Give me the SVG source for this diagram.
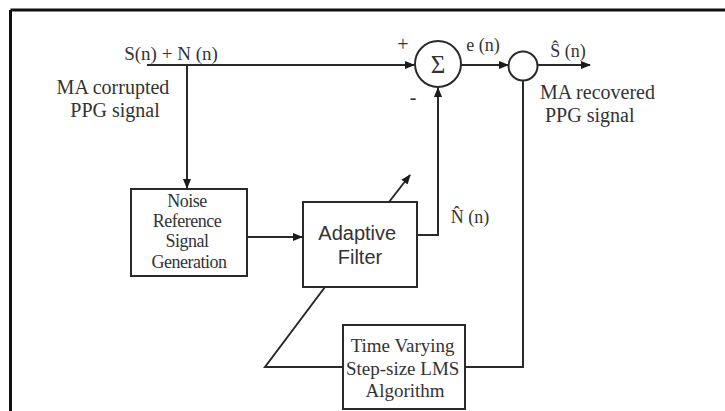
<svg xmlns="http://www.w3.org/2000/svg" width="725" height="411" viewBox="0 0 725 411">
<defs>
<marker id="ah" viewBox="0 0 10 10" refX="9" refY="5" markerWidth="10" markerHeight="10" markerUnits="userSpaceOnUse" orient="auto">
<path d="M0,1 L10,5 L0,9 Z" fill="#1a1a1a"/>
</marker>
</defs>
<style>
.ln{fill:none;stroke:#2a2a2a;stroke-width:2}
.bx{fill:#fff;stroke:#2a2a2a;stroke-width:2}
.serif{font-family:"Liberation Serif","Times New Roman",serif;fill:#333}
.sans{font-family:"Liberation Sans",Arial,sans-serif;fill:#333}
</style>
<rect width="725" height="411" fill="#fff"/>
<g id="frame">
<line x1="10.5" y1="10" x2="725" y2="10" stroke="#111" stroke-width="3"/>
<line x1="10.5" y1="10" x2="10.5" y2="411" stroke="#111" stroke-width="3"/>
</g>
<g id="connectors">
<line class="ln" x1="147" y1="65" x2="414" y2="65" marker-end="url(#ah)"/>
<line class="ln" x1="187" y1="65" x2="187" y2="188" marker-end="url(#ah)"/>
<line class="ln" x1="247" y1="237" x2="302" y2="237" marker-end="url(#ah)"/>
<polyline class="ln" points="417,235 438,235 438,88" marker-end="url(#ah)"/>
<line class="ln" x1="461" y1="65" x2="508" y2="65" marker-end="url(#ah)"/>
<line class="ln" x1="538" y1="65" x2="590" y2="65" marker-end="url(#ah)"/>
<polyline class="ln" points="523,80 523,367 465,367"/>
<polyline class="ln" points="343,367 265,367 325,287"/>
<line class="ln" x1="389" y1="202" x2="410" y2="175" marker-end="url(#ah)"/>
</g>
<g id="sum">
<circle class="bx" cx="438" cy="64" r="23"/>
<text class="serif" x="438" y="73" font-size="25" text-anchor="middle">Σ</text>
</g>
<g id="junction">
<circle class="bx" cx="523" cy="66" r="14.5"/>
</g>
<g id="noise-ref">
<rect class="bx" x="131" y="189" width="116" height="87"/>
<text class="serif" font-size="18" text-anchor="middle" letter-spacing="-0.5">
<tspan x="189" y="207">Noise</tspan>
<tspan x="189" y="227">Reference</tspan>
<tspan x="189" y="247">Signal</tspan>
<tspan x="189" y="268">Generation</tspan>
</text>
</g>
<g id="adaptive-filter">
<rect class="bx" x="303" y="202" width="114" height="85"/>
<text class="sans" font-size="20" text-anchor="middle">
<tspan x="360" y="240">Adaptive</tspan>
<tspan x="360" y="264">Filter</tspan>
</text>
</g>
<g id="lms">
<rect class="bx" x="343" y="325" width="122" height="84"/>
<text class="serif" font-size="19" text-anchor="middle">
<tspan x="405" y="352">Time Varying</tspan>
<tspan x="405" y="375">Step-size LMS</tspan>
<tspan x="405" y="397">Algorithm</tspan>
</text>
</g>
<g id="labels">
<text class="serif" x="171" y="60" font-size="19" text-anchor="middle">S(n) + N (n)</text>
<text class="serif" font-size="20" text-anchor="middle"><tspan x="113" y="94">MA corrupted</tspan><tspan x="115" y="117">PPG signal</tspan></text>
<text class="serif" x="403" y="51" font-size="20" text-anchor="middle">+</text>
<text class="serif" x="413" y="104" font-size="20" text-anchor="middle">-</text>
<text class="serif" x="483" y="51" font-size="18" text-anchor="middle">e (n)</text>
<text class="serif" x="568" y="57" font-size="18" text-anchor="middle">Ŝ (n)</text>
<text class="serif" font-size="20"><tspan x="540" y="99">MA recovered</tspan><tspan x="545" y="122">PPG signal</tspan></text>
<text class="serif" x="470" y="223" font-size="18" text-anchor="middle">N̂ (n)</text>
</g>
</svg>
